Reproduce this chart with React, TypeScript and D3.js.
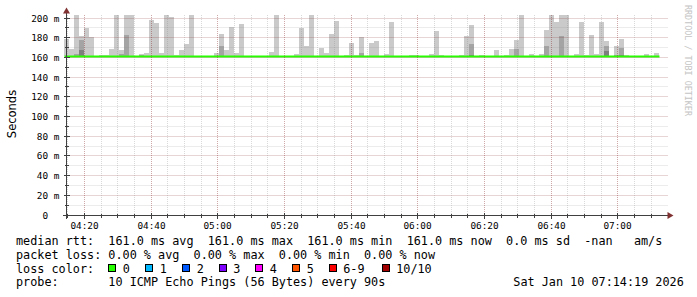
import React from "react";
import * as d3 from "d3";

// ---- data ----
const RANGE_START = "2026-01-10T04:14:19Z";
const RANGE_END = "2026-01-10T07:14:19Z";
const FIRST_STEP = "2026-01-10T04:14:00Z";
const STEP_SECONDS = 90;

// highest of the 10 pings per step (ms)
const pingMax = [
  178.7, 168.5, 210, 181.7, 189.8, 180.4, 161, 162.4, 162.4, 168.5,
  210, 167.5, 210, 210, 161, 163.5, 164.8, 198, 194.9, 164.8,
  210, 201.3, 162.4, 167.5, 173.6, 210, 161, 161, 161, 161,
  164.8, 183.8, 167.5, 190.9, 164.8, 193.9, 161, 161, 161, 161,
  161, 165.5, 210, 161, 161, 161, 163.5, 189.8, 171.6, 210,
  161, 169.5, 164.5, 183.8, 197, 161, 162.4, 174.6, 162.4, 180.7,
  161, 174.6, 176.6, 161, 163.5, 196, 161, 161, 161, 162.4,
  162.4, 161, 161, 163.5, 186.8, 162.4, 161, 161, 161, 162.4,
  181.7, 192.9, 161, 162.4, 161, 161, 167.5, 161, 162.4, 168.5,
  177.7, 210, 161, 163.5, 161, 163.5, 187.8, 210, 196, 210,
  210, 161, 163.5, 196, 162.4, 182.7, 163.5, 196, 176.6, 161,
  171.6, 178.7, 162.4, 161, 161, 161, 163.5, 161, 164.5,
];
// 9th ping per step
const ping9 = [
  161, 161, 163.5, 177.7, 161, 161, 161, 161, 161, 161,
  161, 163.5, 182.7, 161, 161, 162.5, 161, 161, 161, 161,
  161, 161, 161, 161, 161, 161, 161, 161, 161, 161,
  161, 172, 161, 161, 161, 161, 161, 161, 161, 161,
  161, 161, 161, 161, 161, 161, 161, 161, 161, 161,
  161, 161, 161, 161, 161, 161, 161, 161, 161, 164.5,
  161, 161, 161, 161, 161, 161, 161, 161, 161, 161,
  161, 161, 161, 161, 161, 161, 161, 161, 161, 161,
  161, 173.6, 161, 161, 161, 161, 161, 161, 161, 161,
  168.5, 161, 161, 161, 161, 161, 171.6, 161, 161, 181.7,
  161, 161, 161, 161, 161, 161, 161, 161, 171.6, 161,
  162.5, 169.5, 161, 161, 161, 161, 161, 161, 161,
];
// 8th ping per step
const ping8 = [
  161, 161, 161, 167.5, 161, 161, 161, 161, 161, 161,
  161, 161, 161, 161, 161, 161, 161, 161, 161, 161,
  161, 161, 161, 161, 161, 161, 161, 161, 161, 161,
  161, 161, 161, 161, 161, 161, 161, 161, 161, 161,
  161, 161, 161, 161, 161, 161, 161, 161, 161, 161,
  161, 161, 161, 161, 161, 161, 161, 161, 161, 161,
  161, 161, 161, 161, 161, 161, 161, 161, 161, 161,
  161, 161, 161, 161, 161, 161, 161, 161, 161, 161,
  161, 162.4, 161, 161, 161, 161, 161, 161, 161, 161,
  161, 161, 161, 161, 161, 161, 161, 161, 161, 161,
  161, 161, 161, 161, 161, 161, 161, 161, 166.6, 161,
  161, 162.4, 161, 161, 161, 161, 161, 161, 161,
];
// median rtt per step
const medianRtt = [
  161, 161, 161, 161, 161, 161, 161, 161, 161, 161,
  161, 161, 161, 161, 161, 161, 161, 161, 161, 161,
  161, 161, 161, 161, 161, 161, 161, 161, 161, 161,
  161, 161, 161, 161, 161, 161, 161, 161, 161, 161,
  161, 161, 161, 161, 161, 161, 161, 161, 161, 161,
  161, 161, 161, 161, 161, 161, 161, 161, 161, 161,
  161, 161, 161, 161, 161, 161, 161, 161, 161, 161,
  161, 161, 161, 161, 161, 161, 161, 161, 161, 161,
  161, 161, 161, 161, 161, 161, 161, 161, 161, 161,
  161, 161, 161, 161, 161, 161, 161, 161, 161, 161,
  161, 161, 161, 161, 161, 161, 161, 161, 161, 161,
  161, 161, 161, 161, 161, 161, 161, 161, 161,
];

const yMajorTicks = [0, 20, 40, 60, 80, 100, 120, 140, 160, 180, 200];
const yMinorTicks = [10, 30, 50, 70, 90, 110, 130, 150, 170, 190];
const yTickLabels = ["  0  ", " 20 m", " 40 m", " 60 m", " 80 m", "100 m", "120 m", "140 m", "160 m", "180 m", "200 m"];

const lossLabels = ["0", "1", "2", "3", "4", "5", "6-9", "10/10"];
const lossColors = ["#26ff00", "#00b8ff", "#0059ff", "#7e00ff", "#ff00ff", "#ff5500", "#ff0000", "#a00000"];

const legendLine1 = "median rtt:  161.0 ms avg  161.0 ms max  161.0 ms min  161.0 ms now  0.0 ms sd  -nan   am/s";
const legendLine2 = "packet loss: 0.00 % avg  0.00 % max  0.00 % min  0.00 % now";
const legendLine3 = "loss color:";
const legendLine4 = "probe:       10 ICMP Echo Pings (56 Bytes) every 90s";
const dateStamp = "Sat Jan 10 07:14:19 2026";
const watermark = "RRDTOOL / TOBI OETIKER";

// ---- layout ----
const W = 697;
const H = 297;
const MONO = "'DejaVu Sans Mono', monospace";
const legendBoxX = [108.5, 145.5, 182.5, 219, 255.5, 292.5, 329, 382];

export default function App() {
  const x = d3
    .scaleUtc()
    .domain([new Date(RANGE_START), new Date(RANGE_END)])
    .range([65.56, 665.56]);
  const y = d3.scaleLinear().domain([0, 200]).range([215, 18]);
  const crispY = (v: number) => Math.floor(y(v)) + 0.5;
  const crispX = (t: Date) => Math.floor(x(t)) + 0.5;

  const t0 = new Date(FIRST_STEP).getTime();
  const stepStart = (i: number) => new Date(t0 + i * STEP_SECONDS * 1000);

  const minorTimes = d3.utcMinute.every(5)!.range(new Date(RANGE_START), new Date(RANGE_END));
  const majorTimes = minorTimes.filter((t) => t.getUTCMinutes() % 20 === 0);
  const fmt = d3.utcFormat("%H:%M");

  const axisX = 66.5;
  const axisY = 215.5;
  const plotTop = 15;

  const bands = [
    { vals: pingMax, color: "#cacaca" },
    { vals: ping9, color: "#a4a4a4" },
    { vals: ping8, color: "#7e7e7e" },
  ];

  const lineGen = d3
    .line<number>()
    .x((_, i) => x(stepStart(i)))
    .y((d) => y(d))
    .curve(d3.curveStepAfter);
  const medianPts = [...medianRtt, medianRtt[medianRtt.length - 1]];

  const minorGrid = "rgba(140,140,140,0.33)";
  const majorGrid = "rgba(130,30,30,0.38)";

  return (
    <svg
      width={W}
      height={H}
      style={{ position: "fixed", left: 0, top: 0, background: "#ffffff" }}
    >
      <defs>
        <clipPath id="plot">
          <rect x={64} y={plotTop} width={602} height={axisY - plotTop} />
        </clipPath>
      </defs>
      <rect x={0} y={0} width={W} height={H} fill="#ffffff" />

      {/* smoke */}
      <g clipPath="url(#plot)" shapeRendering="crispEdges">
        {bands.map((b, bi) =>
          b.vals.map((v, i) => {
            const base = medianRtt[i];
            if (v <= base) return null;
            const x0 = Math.floor(x(stepStart(i)));
            const x1 = Math.floor(x(stepStart(i + 1)));
            const yt = Math.round(y(v));
            const yb = Math.round(y(base));
            return (
              <rect key={`${bi}-${i}`} x={x0} y={yt} width={x1 - x0} height={Math.max(0, yb - yt)} fill={b.color} />
            );
          })
        )}
      </g>

      {/* median line */}
      <path d={lineGen(medianPts) || ""} fill="none" stroke="#26ff00" strokeWidth={2} />

      {/* grid */}
      <g strokeWidth={1} strokeDasharray="1,1" fill="none">
        {yMinorTicks.map((v) => (
          <line key={`ym${v}`} x1={axisX} x2={668} y1={crispY(v)} y2={crispY(v)} stroke={minorGrid} />
        ))}
        {yMajorTicks.filter((v) => v > 0).map((v) => (
          <line key={`yM${v}`} x1={axisX} x2={668} y1={crispY(v)} y2={crispY(v)} stroke={majorGrid} />
        ))}
        {minorTimes.filter((t) => t.getUTCMinutes() % 20 !== 0).map((t) => (
          <line key={`xm${t.getTime()}`} x1={crispX(t)} x2={crispX(t)} y1={plotTop} y2={axisY} stroke={minorGrid} />
        ))}
        {majorTimes.map((t) => (
          <line key={`xM${t.getTime()}`} x1={crispX(t)} x2={crispX(t)} y1={plotTop} y2={axisY} stroke={majorGrid} />
        ))}
      </g>

      {/* axes */}
      <g stroke="#404040" strokeWidth={1} shapeRendering="crispEdges">
        <line x1={axisX} x2={axisX} y1={11} y2={219} />
        <line x1={63} x2={669} y1={axisY} y2={axisY} />
        {yMinorTicks.map((v) => (
          <line key={`ytm${v}`} x1={axisX - 2} x2={axisX + 2} y1={crispY(v)} y2={crispY(v)} />
        ))}
        {yMajorTicks.map((v) => (
          <line key={`ytM${v}`} x1={axisX - 3} x2={axisX + 3} y1={crispY(v)} y2={crispY(v)} />
        ))}
        {minorTimes.map((t) => (
          <line key={`xt${t.getTime()}`} x1={crispX(t)} x2={crispX(t)} y1={axisY - 2} y2={axisY + 2} />
        ))}
        {majorTimes.map((t) => (
          <line key={`xT${t.getTime()}`} x1={crispX(t)} x2={crispX(t)} y1={axisY - 3} y2={axisY + 3} />
        ))}
      </g>
      <path d={`M${axisX - 3.5},13.5 L${axisX},7.5 L${axisX + 3.5},13.5 Z`} fill="#803131" />
      <path d={`M667.5,${axisY - 3.5} L673.5,${axisY} L667.5,${axisY + 3.5} Z`} fill="#803131" />

      {/* y labels */}
      <g fontFamily={MONO} fontSize={9.4} fill="#000" style={{ whiteSpace: "pre" }}>
        {yMajorTicks.map((v, i) => (
          <text key={`yl${v}`} x={31.2} y={crispY(v) + 3.4} xmlSpace="preserve">
            {yTickLabels[i]}
          </text>
        ))}
        {majorTimes.map((t) => (
          <text key={`xl${t.getTime()}`} x={crispX(t)} y={229} textAnchor="middle">
            {fmt(t)}
          </text>
        ))}
      </g>

      <text
        transform="translate(16,114) rotate(-90)"
        textAnchor="middle"
        fontFamily="'DejaVu Sans', sans-serif"
        fontSize={11.5}
        fill="#000"
      >
        Seconds
      </text>

      <text
        transform="translate(685,5) rotate(90)"
        fontFamily={MONO}
        fontSize={8.4}
        fill="#c4c4c4"
        style={{ whiteSpace: "pre" }}
        xmlSpace="preserve"
      >
        {watermark}
      </text>

      {/* legend */}
      <g fontFamily={MONO} fontSize={11.8} fill="#000" style={{ whiteSpace: "pre" }}>
        <text x={16} y={245} xmlSpace="preserve">{legendLine1}</text>
        <text x={16} y={258.8} xmlSpace="preserve">{legendLine2}</text>
        <text x={16} y={272.6} xmlSpace="preserve">{legendLine3}</text>
        {lossLabels.map((l, i) => (
          <g key={`lg${l}`}>
            <rect x={legendBoxX[i]} y={264.5} width={7} height={7} fill={lossColors[i]} stroke="#000" strokeWidth={1} shapeRendering="crispEdges" />
            <text x={legendBoxX[i] + 14.2} y={272.6}>{l}</text>
          </g>
        ))}
        <text x={16} y={286.4} xmlSpace="preserve">{legendLine4}</text>
        <text x={513.3} y={286.4}>{dateStamp}</text>
      </g>
    </svg>
  );
}
